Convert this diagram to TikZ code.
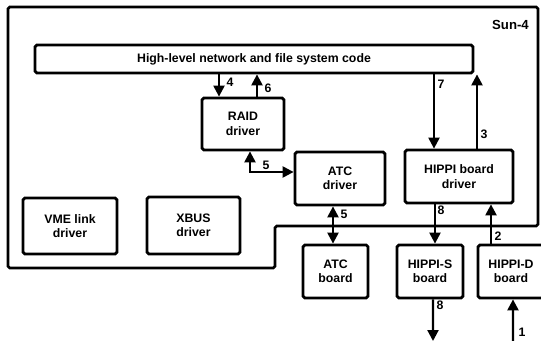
\documentclass[tikz,border=0pt]{standalone}
\usepackage{fontspec}
\setmainfont{Liberation Sans}
\usetikzlibrary{arrows.meta}

\begin{document}
\begin{tikzpicture}[x=0.02cm,y=-0.02cm,
    box/.style={draw,line width=1.6pt,rounded corners=1pt,align=center,
                inner sep=0pt,font=\fontsize{7}{8.2}\selectfont\bfseries},
    arr/.style={-{Triangle[length=0.22cm,width=0.22cm]},line width=1.3pt},
    both/.style={{Triangle[length=0.22cm,width=0.22cm]}-{Triangle[length=0.22cm,width=0.22cm]},line width=1.3pt},
    num/.style={font=\fontsize{7}{8}\selectfont\bfseries,inner sep=0pt}]

    \useasboundingbox (0,0) rectangle (541,347);

    % Sun-4 frame
    \draw[line width=1.6pt,rounded corners=1pt]
      (8,7) -- (538,7) -- (538,226) -- (275,226) -- (275,268) -- (8,268) -- cycle;
    \node[font=\fontsize{7.5}{9}\selectfont\bfseries,anchor=east] (sun) at (535,25) {Sun-4};

    % Software
    \node[box,minimum width=8.76cm,minimum height=0.56cm] (hl) at (254,59)
      {High-level network and file system code};
    \node[box,minimum width=1.64cm,minimum height=1.04cm] (raid) at (243,124) {RAID\\driver};
    \node[box,minimum width=1.8cm,minimum height=1.06cm] (atcd) at (340,178.5) {ATC\\driver};
    \node[box,minimum width=2.16cm,minimum height=1.06cm] (hipd) at (459,176.5) {HIPPI board\\driver};
    \node[box,minimum width=1.88cm,minimum height=1.12cm] (vme) at (70,226) {VME link\\driver};
    \node[box,minimum width=1.86cm,minimum height=1.14cm] (xbus) at (193.5,225.5) {XBUS\\driver};

    % Boards
    \node[box,minimum width=1.3cm,minimum height=1.06cm] (atcb) at (335.5,271.5) {ATC\\board};
    \node[box,minimum width=1.32cm,minimum height=1.06cm] (hs) at (430,271.5) {HIPPI-S\\board};
    \node[box,minimum width=1.32cm,minimum height=1.06cm] (hdb) at (511,271.5) {HIPPI-D\\board};

    \coordinate (sout) at (433,341);
    \coordinate (din) at (513,341);

    % Data path
    \draw[arr] (din) -- ([xshift=0.04cm]hdb.south);
    \node[num] (l1) at (522,332) {1};
    \draw[arr] ([xshift=-0.4cm]hdb.north) -- ([xshift=-0.4cm]hdb.north |- hipd.south);
    \node[num] (l2) at (498,236) {2};
    \draw[arr] ([xshift=0.36cm]hipd.north) -- ([xshift=0.36cm]hipd.north |- hl.south);
    \node[num] (l3) at (484,134) {3};
    \draw[arr] ([xshift=-0.48cm]raid.north |- hl.south) -- ([xshift=-0.48cm]raid.north);
    \node[num] (l4) at (230,82) {4};
    \draw[both] ([xshift=0.14cm]raid.south) |- ([yshift=0.13cm]atcd.west);
    \node[num] (l5) at (266,165) {5};
    \draw[both] ([xshift=-0.05cm]atcb.north |- atcd.south) -- ([xshift=-0.05cm]atcb.north);
    \node[num] (l5b) at (344,214) {5};
    \draw[arr] ([xshift=0.28cm]raid.north) -- ([xshift=0.28cm]raid.north |- hl.south);
    \node[num] (l6) at (268,88) {6};
    \draw[arr] ([xshift=-0.5cm]hipd.north |- hl.south) -- ([xshift=-0.5cm]hipd.north);
    \node[num] (l7) at (441,84) {7};
    \draw[arr] ([xshift=0.1cm]hs.north |- hipd.south) -- ([xshift=0.1cm]hs.north);
    \node[num] (l8) at (441,210) {8};
    \draw[arr] ([xshift=0.06cm]hs.south) -- (sout);
    \node[num] (l8b) at (440,305) {8};
  \end{tikzpicture}
\end{document}
